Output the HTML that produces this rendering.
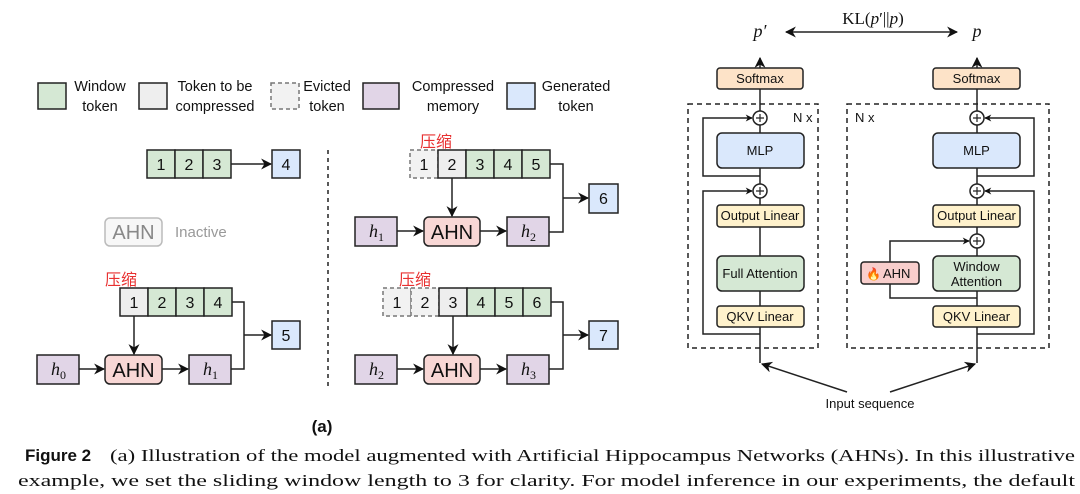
<!DOCTYPE html>
<html><head><meta charset="utf-8"><style>
html,body{margin:0;padding:0;background:#fff;}
svg{display:block;}
text{font-family:"Liberation Sans",Arial,sans-serif;fill:#111;}
.s{font-family:"Liberation Serif",serif;}
</style></head><body>
<svg width="1080" height="494" viewBox="0 0 1080 494" xmlns="http://www.w3.org/2000/svg">
<defs>
<marker id="a" viewBox="0 0 10 10" refX="9" refY="5" markerWidth="7" markerHeight="7" orient="auto-start-reverse" markerUnits="userSpaceOnUse"><path d="M0,0 L10,5 L0,10 L3,5 z" fill="#111"/></marker>
<marker id="b" viewBox="0 0 10 10" refX="9" refY="5" markerWidth="11" markerHeight="11" orient="auto-start-reverse" markerUnits="userSpaceOnUse"><path d="M0,0 L10,5 L0,10 L3,5 z" fill="#111"/></marker>
</defs>
<g stroke="#222" stroke-width="1.5">
<rect x="38" y="83" width="28" height="26" fill="#d5e8d4"/>
<rect x="139" y="83" width="28" height="26" fill="#eeeeee"/>
<rect x="271" y="83" width="28" height="26" fill="#f2f2f2" stroke="#777" stroke-dasharray="4,3"/>
<rect x="363" y="83" width="36" height="26" fill="#e1d5e7"/>
<rect x="507" y="83" width="28" height="26" fill="#dae8fc"/>
</g>
<g font-size="14.5" text-anchor="middle">
<text x="100" y="91">Window</text><text x="100" y="111">token</text>
<text x="215" y="91">Token to be</text><text x="215" y="111">compressed</text>
<text x="327" y="91">Evicted</text><text x="327" y="111">token</text>
<text x="453" y="91">Compressed</text><text x="453" y="111">memory</text>
<text x="576" y="91">Generated</text><text x="576" y="111">token</text>
</g>

<g stroke="#222" stroke-width="1.5">
<rect x="147" y="150" width="28" height="28" fill="#d5e8d4"/>
<rect x="175" y="150" width="28" height="28" fill="#d5e8d4"/>
<rect x="203" y="150" width="28" height="28" fill="#d5e8d4"/>
<rect x="272" y="150" width="28" height="28" fill="#dae8fc"/>
<line x1="231" y1="164" x2="271" y2="164" marker-end="url(#b)"/>
</g>
<g font-size="16" text-anchor="middle">
<text x="161" y="170">1</text><text x="189" y="170">2</text><text x="217" y="170">3</text><text x="286" y="170">4</text>
</g>
<rect x="105" y="218" width="57" height="28" rx="5" fill="#f7f7f7" stroke="#bbb" stroke-width="1.5"/>
<text x="133.5" y="239" font-size="20" text-anchor="middle" style="fill:#888">AHN</text>
<text x="175" y="237" font-size="15" style="fill:#999">Inactive</text>

<line x1="328" y1="150" x2="328" y2="387" stroke="#222" stroke-width="1.5" stroke-dasharray="4,4"/>

<g stroke="#222" stroke-width="1.5">
<rect x="410" y="150" width="28" height="28" fill="#f2f2f2" stroke="#777" stroke-dasharray="4,3"/>
<rect x="438" y="150" width="28" height="28" fill="#eeeeee"/>
<rect x="466" y="150" width="28" height="28" fill="#d5e8d4"/>
<rect x="494" y="150" width="28" height="28" fill="#d5e8d4"/>
<rect x="522" y="150" width="28" height="28" fill="#d5e8d4"/>
<rect x="589" y="184" width="29" height="29" fill="#dae8fc"/>
<rect x="355" y="217" width="42" height="29" fill="#e1d5e7"/>
<rect x="424" y="217" width="56" height="29" rx="5" fill="#f8d7d5"/>
<rect x="507" y="217" width="42" height="29" fill="#e1d5e7"/>
<line x1="452" y1="178" x2="452" y2="216" marker-end="url(#b)"/>
<line x1="397" y1="231" x2="423" y2="231" marker-end="url(#b)"/>
<line x1="480" y1="231" x2="506" y2="231" marker-end="url(#b)"/>
<polyline points="550,164 563,164 563,232 549,232" fill="none"/>
<line x1="563" y1="198" x2="588" y2="198" marker-end="url(#b)"/>
</g>
<text x="420" y="147" font-size="16" style="fill:#e83030;font-family:'Liberation Sans','Noto Sans CJK SC',sans-serif">压缩</text>
<g font-size="16" text-anchor="middle">
<text x="424" y="170">1</text><text x="452" y="170">2</text><text x="480" y="170">3</text><text x="508" y="170">4</text><text x="536" y="170">5</text>
<text x="603.5" y="204">6</text>
</g>
<text x="452" y="239" font-size="20" text-anchor="middle">AHN</text>
<text class="s" x="369" y="237" font-size="18" font-style="italic">h<tspan font-size="12" dy="4" font-style="normal">1</tspan></text>
<text class="s" x="521" y="237" font-size="18" font-style="italic">h<tspan font-size="12" dy="4" font-style="normal">2</tspan></text>

<g stroke="#222" stroke-width="1.5">
<rect x="120" y="288" width="28" height="28" fill="#eeeeee"/>
<rect x="148" y="288" width="28" height="28" fill="#d5e8d4"/>
<rect x="176" y="288" width="28" height="28" fill="#d5e8d4"/>
<rect x="204" y="288" width="28" height="28" fill="#d5e8d4"/>
<rect x="272" y="321" width="28" height="28" fill="#dae8fc"/>
<rect x="37" y="355" width="42" height="29" fill="#e1d5e7"/>
<rect x="105" y="355" width="57" height="29" rx="5" fill="#f8d7d5"/>
<rect x="189" y="355" width="42" height="29" fill="#e1d5e7"/>
<line x1="134" y1="316" x2="134" y2="354" marker-end="url(#b)"/>
<line x1="79" y1="369" x2="104" y2="369" marker-end="url(#b)"/>
<line x1="162" y1="369" x2="188" y2="369" marker-end="url(#b)"/>
<polyline points="232,302 244,302 244,369 231,369" fill="none"/>
<line x1="244" y1="335" x2="271" y2="335" marker-end="url(#b)"/>
</g>
<text x="105" y="285" font-size="16" style="fill:#e83030;font-family:'Liberation Sans','Noto Sans CJK SC',sans-serif">压缩</text>
<g font-size="16" text-anchor="middle">
<text x="134" y="308">1</text><text x="162" y="308">2</text><text x="190" y="308">3</text><text x="218" y="308">4</text>
<text x="286" y="341">5</text>
</g>
<text x="133.5" y="377" font-size="20" text-anchor="middle">AHN</text>
<text class="s" x="51" y="375" font-size="18" font-style="italic">h<tspan font-size="12" dy="4" font-style="normal">0</tspan></text>
<text class="s" x="203" y="375" font-size="18" font-style="italic">h<tspan font-size="12" dy="4" font-style="normal">1</tspan></text>

<g stroke="#222" stroke-width="1.5">
<rect x="383" y="288" width="28" height="28" fill="#f2f2f2" stroke="#777" stroke-dasharray="4,3"/>
<rect x="411" y="288" width="28" height="28" fill="#f2f2f2" stroke="#777" stroke-dasharray="4,3"/>
<rect x="439" y="288" width="28" height="28" fill="#eeeeee"/>
<rect x="467" y="288" width="28" height="28" fill="#d5e8d4"/>
<rect x="495" y="288" width="28" height="28" fill="#d5e8d4"/>
<rect x="523" y="288" width="28" height="28" fill="#d5e8d4"/>
<rect x="589" y="321" width="29" height="28" fill="#dae8fc"/>
<rect x="355" y="355" width="42" height="29" fill="#e1d5e7"/>
<rect x="424" y="355" width="56" height="29" rx="5" fill="#f8d7d5"/>
<rect x="507" y="355" width="42" height="29" fill="#e1d5e7"/>
<line x1="453" y1="316" x2="453" y2="354" marker-end="url(#b)"/>
<line x1="397" y1="369" x2="423" y2="369" marker-end="url(#b)"/>
<line x1="480" y1="369" x2="506" y2="369" marker-end="url(#b)"/>
<polyline points="551,302 563,302 563,369 549,369" fill="none"/>
<line x1="563" y1="335" x2="588" y2="335" marker-end="url(#b)"/>
</g>
<text x="399" y="285" font-size="16" style="fill:#e83030;font-family:'Liberation Sans','Noto Sans CJK SC',sans-serif">压缩</text>
<g font-size="16" text-anchor="middle">
<text x="397" y="308">1</text><text x="425" y="308">2</text><text x="453" y="308">3</text><text x="481" y="308">4</text><text x="509" y="308">5</text><text x="537" y="308">6</text>
<text x="603.5" y="341">7</text>
</g>
<text x="452" y="377" font-size="20" text-anchor="middle">AHN</text>
<text class="s" x="369" y="375" font-size="18" font-style="italic">h<tspan font-size="12" dy="4" font-style="normal">2</tspan></text>
<text class="s" x="521" y="375" font-size="18" font-style="italic">h<tspan font-size="12" dy="4" font-style="normal">3</tspan></text>

<text x="322" y="432" font-size="17" font-weight="bold" text-anchor="middle">(a)</text>

<g stroke="#222" stroke-width="1.5" fill="none">
<rect x="688" y="104" width="130" height="244" stroke-dasharray="5,4"/>
<rect x="847" y="104" width="202" height="244" stroke-dasharray="5,4"/>
<line x1="760" y1="363" x2="760" y2="125"/>
<line x1="760" y1="111" x2="760" y2="58" marker-end="url(#b)"/>
<polyline points="760,176 703,176 703,118 752,118" marker-end="url(#a)"/>
<polyline points="760,334 703,334 703,191 752,191" marker-end="url(#a)"/>
<line x1="977" y1="363" x2="977" y2="125"/>
<line x1="977" y1="111" x2="977" y2="58" marker-end="url(#b)"/>
<polyline points="977,176 1034,176 1034,118 985,118" marker-end="url(#a)"/>
<polyline points="977,334 1034,334 1034,191 985,191" marker-end="url(#a)"/>
<polyline points="977,298 890,298 890,241 969,241" marker-end="url(#a)"/>
<line x1="786" y1="32" x2="957" y2="32" marker-start="url(#b)" marker-end="url(#b)"/>
<line x1="847" y1="392" x2="762" y2="364" marker-end="url(#b)"/>
<line x1="890" y1="392" x2="975" y2="364" marker-end="url(#b)"/>
</g>
<g stroke="#222" stroke-width="1.5">
<rect x="717" y="68" width="86" height="21" rx="3" fill="#fde3c8"/>
<rect x="933" y="68" width="87" height="21" rx="3" fill="#fde3c8"/>
<rect x="717" y="133" width="87" height="35" rx="5" fill="#dae8fc"/>
<rect x="933" y="133" width="87" height="35" rx="5" fill="#dae8fc"/>
<rect x="717" y="205" width="87" height="22" rx="3" fill="#fff2cc"/>
<rect x="933" y="205" width="87" height="22" rx="3" fill="#fff2cc"/>
<rect x="717" y="256" width="87" height="35" rx="5" fill="#d5e8d4"/>
<rect x="933" y="256" width="87" height="35" rx="5" fill="#d5e8d4"/>
<rect x="717" y="306" width="87" height="21" rx="3" fill="#fff2cc"/>
<rect x="933" y="306" width="87" height="21" rx="3" fill="#fff2cc"/>
<rect x="861" y="262" width="58" height="22" rx="3" fill="#f8cecc"/>
<circle cx="760" cy="118" r="7" fill="#fff"/><circle cx="760" cy="191" r="7" fill="#fff"/>
<circle cx="977" cy="118" r="7" fill="#fff"/><circle cx="977" cy="191" r="7" fill="#fff"/>
<circle cx="977" cy="241" r="7" fill="#fff"/>
</g>
<g stroke="#222" stroke-width="1.2">
<path d="M756,118h8M760,114v8M756,191h8M760,187v8M973,118h8M977,114v8M973,191h8M977,187v8M973,241h8M977,237v8"/>
</g>
<g font-size="13" text-anchor="middle">
<text x="760" y="83">Softmax</text><text x="976.5" y="83">Softmax</text>
<text x="760" y="155">MLP</text><text x="976.5" y="155">MLP</text>
<text x="760" y="220">Output Linear</text><text x="976.5" y="220">Output Linear</text>
<text x="760" y="278">Full Attention</text>
<text x="976.5" y="271">Window</text><text x="976.5" y="286">Attention</text>
<text x="760" y="321">QKV Linear</text><text x="976.5" y="321">QKV Linear</text>
<text x="870" y="408">Input sequence</text>
</g>
<text x="866" y="278" font-size="12">🔥</text>
<text x="883" y="278" font-size="13">AHN</text>
<text x="793" y="122" font-size="13">N x</text>
<text x="855" y="122" font-size="13">N x</text>
<text class="s" x="760" y="37" font-size="18" font-style="italic" text-anchor="middle">p′</text>
<text class="s" x="977" y="37" font-size="18" font-style="italic" text-anchor="middle">p</text>
<text class="s" x="873" y="24" font-size="17" text-anchor="middle">KL(<tspan font-style="italic">p</tspan>′||<tspan font-style="italic">p</tspan>)</text>

<text x="25" y="461" font-size="17" font-weight="bold">Figure 2</text>
<text class="s" x="110" y="461" font-size="17" textLength="965" lengthAdjust="spacingAndGlyphs">(a) Illustration of the model augmented with Artificial Hippocampus Networks (AHNs). In this illustrative</text>
<text class="s" x="18" y="486" font-size="17" textLength="1057" lengthAdjust="spacingAndGlyphs">example, we set the sliding window length to 3 for clarity.  For model inference in our experiments, the default</text>
</svg>
</body></html>
